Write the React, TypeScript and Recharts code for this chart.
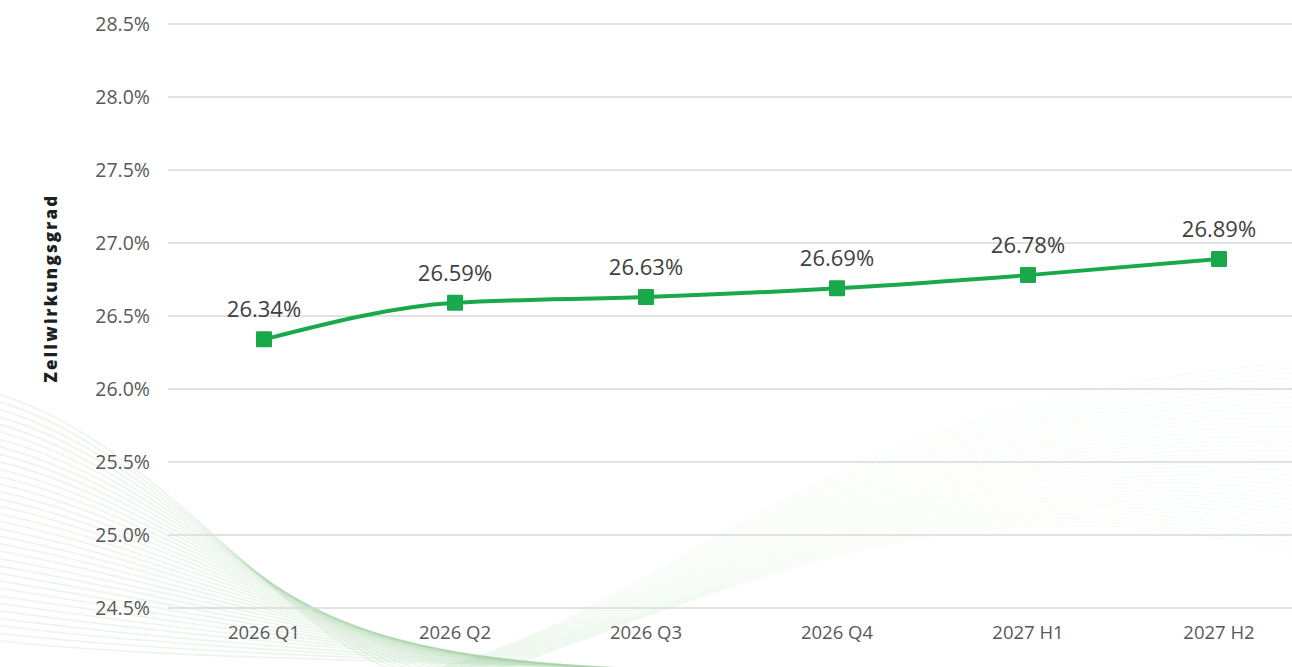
import React from 'react';
import { CartesianGrid, LabelList, Line, LineChart, XAxis, YAxis } from 'recharts';

const periods = ['2026 Q1', '2026 Q2', '2026 Q3', '2026 Q4', '2027 H1', '2027 H2'];
const efficiency = [26.34, 26.59, 26.63, 26.69, 26.78, 26.89];
const yTicks = [24.5, 25.0, 25.5, 26.0, 26.5, 27.0, 27.5, 28.0, 28.5];

const data = periods.map((period, i) => ({ period, value: efficiency[i] }));

const FONT = '"Open Sans", "Noto Sans", sans-serif';
const GREEN = '#19a94b';

// decorative strands in the background, purely ornamental
function Backdrop() {
  const left = Array.from({ length: 34 }, (_, i) => {
    const y0 = 392 + i * 7.5;
    return `M -10 ${y0} C 150 ${y0 + 40 - i * 0.6}, ${290 + i * 4} ${640 + i * 0.6}, ${400 + i * 10} 672`;
  });
  const right = Array.from({ length: 40 }, (_, i) => {
    return `M ${420 + i * 2} 672 C ${690 + i * 2} ${610 - i}, ${790 + i * 5} ${395 + i * 2}, 1310 ${362 + i * 5}`;
  });
  return (
    <svg width={1292} height={667} style={{ position: 'absolute', left: 0, top: 0 }}>
      {left.map((d, i) => (
        <path key={`l${i}`} d={d} fill="none" stroke="#9ccc9c" strokeOpacity={0.2} strokeWidth={1.6} />
      ))}
      {right.map((d, i) => (
        <path key={`r${i}`} d={d} fill="none" stroke="#a8d4a8" strokeOpacity={0.08} strokeWidth={1.2} />
      ))}
    </svg>
  );
}

const SquareDot = (props: any) => {
  const { cx, cy } = props;
  if (cx == null || cy == null) return null;
  return <rect x={cx - 8} y={cy - 8} width={16} height={16} fill={GREEN} rx={1} />;
};

export default function App() {
  return (
    <div style={{ position: 'relative', width: 1292, height: 667, background: '#fff', overflow: 'hidden' }}>
      <style>{'body{margin:0}'}</style>
      <Backdrop />
      <div style={{ position: 'absolute', left: 0, top: 0 }}>
        <LineChart width={1310} height={667} data={data} margin={{ top: 24, right: 0, bottom: 0, left: 0 }}>
          <CartesianGrid vertical={false} stroke="#d9d9d9" strokeWidth={1.3} />
          <XAxis
            dataKey="period"
            scale="point"
            padding={{ left: 96, right: 91 }}
            axisLine={false}
            tickLine={false}
            tickSize={0}
            tickMargin={18}
            height={59}
            tick={{ fill: '#595959', fontSize: 18.5, fontFamily: FONT }}
          />
          <YAxis
            domain={[24.5, 28.5]}
            ticks={yTicks}
            width={168}
            axisLine={false}
            tickLine={false}
            tickSize={0}
            tickMargin={18}
            tickFormatter={(v: number) => `${v.toFixed(1)}%`}
            tick={{ fill: '#595959', fontSize: 19.5, fontFamily: FONT }}
            label={{
              content: ({ viewBox }: any) => {
                const x = viewBox.x + 50;
                const y = viewBox.y + viewBox.height / 2 - 28;
                return (
                  <text
                    x={x}
                    y={y}
                    transform={`rotate(-90 ${x} ${y})`}
                    textAnchor="middle"
                    dominantBaseline="central"
                    fill="#1f1f1f"
                    fontSize={17}
                    fontWeight={800}
                    fontFamily={FONT}
                    letterSpacing={2.2}
                  >
                    Zellwirkungsgrad
                  </text>
                );
              },
            }}
          />
          <Line
            type="monotone"
            dataKey="value"
            stroke={GREEN}
            strokeWidth={4}
            dot={<SquareDot />}
            activeDot={false}
            isAnimationActive={false}
          >
            <LabelList
              dataKey="value"
              position="top"
              offset={22}
              formatter={(v: any) => `${Number(v).toFixed(2)}%`}
              style={{ fill: '#404040', fontSize: 22, fontFamily: FONT }}
            />
          </Line>
        </LineChart>
      </div>
    </div>
  );
}
